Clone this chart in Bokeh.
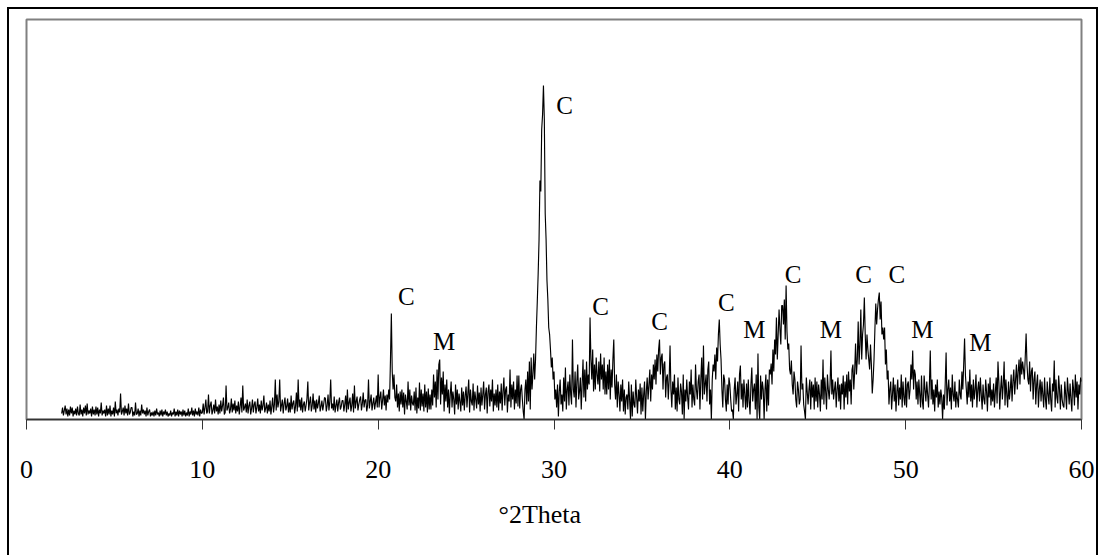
from bokeh.plotting import figure
from bokeh.models import Range1d, ColumnDataSource, FixedTicker, Title
from bokeh.core.properties import value
from bokeh.embed import file_html
from bokeh.resources import INLINE

# ---- data: intensity per 0.05 deg step, one row per degree of 2theta ----
step = 0.05
first_degree = 2

rows_2_9 = [
    [6, 12, 4, 9, 14, 5, 11, 3, 10, 4, 13, 6, 12, 3, 9, 5, 11, 4, 13, 6],
    [4, 15, 5, 10, 3, 12, 6, 14, 4, 16, 5, 9, 6, 11, 3, 13, 5, 10, 4, 13],
    [5, 12, 3, 10, 6, 17, 4, 9, 6, 10, 3, 14, 4, 11, 5, 14, 3, 9, 5, 12],
    [3, 18, 6, 10, 4, 11, 7, 26, 5, 8, 12, 4, 14, 6, 11, 4, 16, 5, 7, 12],
    [12, 3, 8, 4, 17, 5, 6, 11, 3, 9, 4, 15, 6, 10, 5, 9, 3, 12, 4, 8],
    [10, 3, 7, 4, 8, 3, 9, 4, 11, 5, 7, 3, 9, 4, 10, 3, 8, 5, 10, 4],
    [8, 3, 6, 4, 9, 3, 7, 5, 11, 3, 8, 4, 10, 3, 9, 5, 8, 3, 10, 4],
    [9, 3, 7, 4, 11, 3, 8, 5, 12, 4, 9, 3, 11, 5, 8, 4, 12, 3, 10, 6],
]
rows_10_19 = [
    [7, 16, 5, 12, 20, 6, 8, 25, 6, 14, 18, 5, 9, 15, 6, 20, 8, 13, 5, 15],
    [6, 19, 8, 14, 22, 5, 7, 34, 9, 12, 17, 6, 10, 21, 7, 16, 9, 19, 6, 14],
    [8, 18, 5, 13, 22, 7, 34, 9, 12, 16, 7, 20, 6, 14, 18, 5, 11, 20, 7, 15],
    [18, 6, 12, 21, 8, 15, 6, 19, 9, 14, 24, 7, 11, 17, 6, 15, 8, 19, 5, 13],
    [22, 7, 15, 40, 9, 25, 12, 18, 40, 8, 14, 20, 6, 16, 22, 9, 13, 21, 7, 17],
    [7, 24, 10, 16, 19, 6, 13, 27, 8, 40, 12, 20, 9, 22, 7, 15, 18, 8, 14, 21],
    [38, 9, 17, 23, 8, 14, 26, 10, 19, 7, 20, 11, 16, 24, 8, 13, 19, 9, 15, 22],
    [21, 8, 14, 25, 9, 18, 40, 11, 16, 9, 23, 7, 14, 20, 8, 17, 22, 10, 13, 19],
    [19, 8, 15, 24, 7, 30, 10, 17, 22, 8, 14, 26, 7, 34, 11, 18, 23, 9, 15, 20],
    [23, 9, 16, 27, 12, 19, 20, 8, 14, 40, 11, 18, 25, 9, 16, 22, 10, 17, 24, 12],
]
rows_20_29 = [
    [45, 12, 22, 28, 10, 19, 30, 14, 24, 9, 25, 17, 30, 20, 60, 106, 48, 30, 45, 22],
    [18, 35, 12, 26, 8, 28, 15, 30, 12, 27, 5, 25, 18, 10, 38, 14, 30, 9, 24, 16],
    [14, 28, 9, 32, 6, 22, 11, 37, 9, 30, 13, 26, 8, 35, 12, 28, 7, 31, 10, 25],
    [10, 30, 14, 45, 22, 38, 12, 50, 20, 55, 60, 15, 42, 25, 48, 8, 35, 18, 40, 12],
    [30, 6, 25, 38, 12, 28, 20, 5, 35, 15, 30, 10, 26, 18, 8, 32, 14, 28, 9, 24],
    [33, 12, 26, 40, 7, 30, 18, 14, 36, 9, 28, 20, 11, 34, 15, 27, 8, 32, 14, 25],
    [38, 10, 25, 32, 6, 28, 35, 13, 30, 18, 40, 8, 26, 14, 30, 12, 35, 9, 28, 16],
    [36, 9, 28, 42, 14, 30, 33, 7, 25, 18, 50, 12, 35, 20, 38, 10, 30, 16, 44, 13],
    [44, 11, 30, 35, 20, 8, 0, 30, 40, 15, 48, 18, 58, 10, 62, 30, 45, 66, 40, 60],
    [92, 118, 146, 180, 239, 228, 290, 305, 334, 300, 206, 180, 139, 120, 92, 85, 70, 52, 62, 40],
]
rows_30_39 = [
    [48, 20, 30, 12, 35, 3, 28, 40, 15, 25, 8, 42, 18, 52, 10, 30, 38, 14, 45, 25],
    [15, 80, 30, 22, 48, 12, 38, 55, 20, 28, 42, 10, 35, 60, 22, 50, 18, 58, 30, 45],
    [35, 102, 60, 40, 70, 28, 55, 30, 62, 45, 35, 58, 28, 66, 40, 55, 30, 62, 25, 48],
    [25, 55, 30, 60, 20, 50, 32, 60, 80, 35, 20, 45, 12, 38, 25, 8, 35, 18, 40, 8],
    [30, 5, 22, 25, 10, 38, 20, 0, 35, 3, 28, 15, 12, 40, 22, 6, 30, 18, 36, 5],
    [32, 8, 25, 38, 0, 28, 42, 20, 35, 50, 18, 45, 30, 55, 40, 60, 35, 65, 48, 70],
    [80, 45, 62, 66, 30, 55, 58, 22, 42, 45, 20, 40, 74, 30, 12, 38, 25, 45, 10, 32],
    [8, 42, 20, 15, 36, 28, 5, 45, 0, 30, 18, 40, 22, 10, 38, 25, 50, 12, 35, 20],
    [14, 55, 30, 20, 38, 45, 10, 40, 62, 20, 74, 25, 35, 45, 18, 50, 58, 15, 30, 0],
    [40, 55, 48, 65, 40, 72, 58, 85, 100, 75, 60, 30, 12, 45, 40, 20, 8, 35, 15, 42],
]
rows_40_49 = [
    [35, 20, 8, 10, 0, 30, 42, 15, 25, 38, 8, 45, 54, 20, 36, 12, 40, 25, 10, 36],
    [12, 40, 18, 5, 35, 52, 18, 30, 36, 10, 45, 0, 66, 12, 0, 44, 20, 38, 30, 0],
    [30, 45, 8, 40, 14, 50, 45, 56, 35, 70, 48, 80, 65, 102, 60, 85, 110, 90, 75, 114],
    [114, 95, 120, 80, 134, 88, 70, 76, 50, 45, 59, 35, 25, 48, 40, 20, 12, 38, 30, 15],
    [20, 74, 30, 36, 15, 8, 0, 42, 28, 15, 30, 40, 10, 38, 22, 35, 10, 42, 18, 38],
    [12, 35, 25, 8, 40, 20, 60, 15, 42, 28, 10, 45, 30, 20, 35, 69, 25, 40, 20, 30],
    [38, 12, 30, 42, 18, 35, 10, 36, 25, 44, 10, 38, 22, 45, 15, 48, 28, 40, 15, 50],
    [55, 30, 48, 76, 45, 60, 98, 55, 75, 110, 60, 85, 95, 122, 85, 60, 85, 70, 60, 50],
    [75, 55, 26, 40, 60, 90, 116, 95, 110, 120, 127, 100, 118, 85, 92, 80, 92, 55, 70, 40],
    [49, 15, 30, 38, 10, 25, 42, 18, 35, 8, 28, 40, 14, 32, 20, 45, 12, 38, 22, 14],
]
rows_50_59 = [
    [42, 12, 35, 38, 20, 30, 55, 40, 69, 30, 50, 45, 20, 38, 15, 40, 25, 12, 44, 18],
    [10, 44, 30, 18, 38, 25, 12, 35, 69, 20, 40, 15, 30, 8, 35, 22, 40, 12, 28, 15],
    [30, 22, 0, 25, 10, 36, 67, 14, 30, 40, 18, 32, 10, 45, 25, 18, 38, 12, 28, 20],
    [12, 40, 25, 20, 48, 30, 55, 81, 44, 30, 15, 38, 22, 50, 18, 35, 12, 40, 20, 30],
    [45, 12, 30, 38, 18, 42, 25, 10, 35, 20, 15, 40, 28, 8, 36, 22, 42, 14, 30, 18],
    [36, 12, 28, 42, 16, 58, 38, 10, 30, 44, 20, 35, 58, 14, 40, 25, 12, 38, 20, 30],
    [45, 18, 38, 50, 25, 40, 55, 30, 48, 60, 35, 62, 45, 58, 50, 40, 62, 86, 55, 40],
    [35, 58, 28, 48, 52, 20, 40, 48, 15, 35, 45, 12, 30, 40, 18, 38, 25, 12, 42, 20],
    [10, 38, 25, 15, 42, 20, 8, 36, 28, 59, 12, 40, 22, 16, 44, 30, 10, 35, 20, 14],
    [12, 38, 25, 10, 42, 28, 15, 36, 20, 8, 40, 30, 14, 45, 22, 38, 10, 35, 25, 42],
]
last_point = [60.0, 38]

all_rows = rows_2_9 + rows_10_19 + rows_20_29 + rows_30_39 + rows_40_49 + rows_50_59
two_theta, intensity = [], []
for d, row in enumerate(all_rows):
    for i, v in enumerate(row):
        two_theta.append(round(first_degree + d + i * step, 3))
        intensity.append(v)
two_theta.append(last_point[0])
intensity.append(last_point[1])

# phase labels
label_text = ["C", "M", "C", "C", "C", "C", "M", "C", "M", "C", "C", "M", "M"]
label_x = [21.6, 23.75, 30.6, 32.65, 36.0, 39.8, 41.4, 43.6, 45.75, 47.6, 49.5, 50.95, 54.25]
label_y = [123, 78, 314, 113, 98, 117, 90, 145, 90, 145, 145, 90, 77]

x_ticks = [0, 10, 20, 30, 40, 50, 60]
x_axis_title = "°2Theta"

serif = "Liberation Serif"

p = figure(width=1098, height=555, output_backend="svg", toolbar_location=None,
           x_range=Range1d(0, 60), y_range=Range1d(0, 400),
           y_axis_location=None,
           min_border_left=26, min_border_right=17, min_border_top=19,
           min_border_bottom=136)
# outer black frame (left, top, right edges) drawn behind the transparent canvas
blk = "linear-gradient(#000, #000)"
p.styles = {
    "background": (f"{blk} 7px 7px / 2px 100% no-repeat, "
                   f"{blk} 7px 7px / 1091px 2px no-repeat, "
                   f"{blk} 1096px 7px / 2px 100% no-repeat, white"),
}
p.background_fill_color = None
p.border_fill_color = None
p.outline_line_color = "#808080"
p.outline_line_width = 2
p.xgrid.visible = False
p.ygrid.visible = False

p.line(two_theta, intensity, line_color="black", line_width=1.15)

src = ColumnDataSource(dict(x=label_x, y=label_y, t=label_text))
p.text(x="x", y="y", text="t", source=src, text_font=value(serif),
       text_font_size="25px", text_color="black", text_align="center",
       text_baseline="middle")

ax = p.xaxis[0]
ax.ticker = FixedTicker(ticks=x_ticks)
ax.axis_line_color = "#333333"
ax.axis_line_width = 1.5
ax.major_tick_line_color = "#333333"
ax.major_tick_line_width = 1
ax.major_tick_out = 10
ax.major_tick_in = 0
ax.minor_tick_line_color = None
ax.major_label_text_font = serif
ax.major_label_text_font_size = "26px"
ax.major_label_text_color = "black"
ax.major_label_standoff = 31

p.add_layout(Title(text=x_axis_title, align="left", offset=472, standoff=34,
                   text_font=serif, text_font_size="26px",
                   text_font_style="normal", text_color="black"), "below")

open("out.html", "w").write(file_html(p, INLINE))
